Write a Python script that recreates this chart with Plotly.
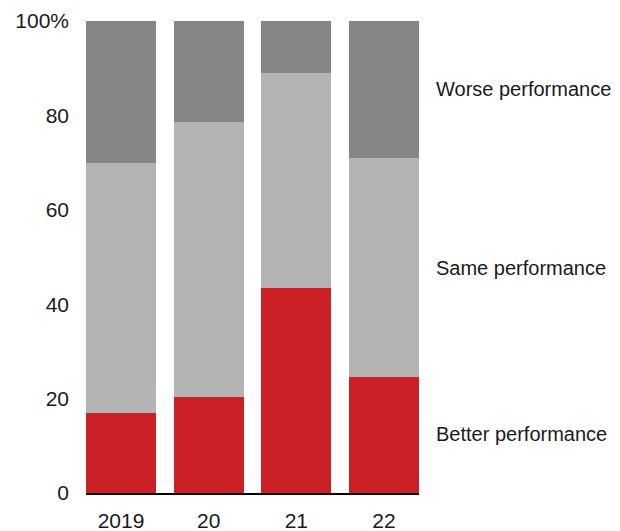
import plotly.graph_objects as go

years = ["2019", "20", "21", "22"]
better = [17, 20.3, 43.4, 24.6]
same = [53, 58.3, 45.6, 46.4]
worse = [30, 21.4, 11, 29]
series_names = ["Better performance", "Same performance", "Worse performance"]
y_tick_vals = [0, 20, 40, 60, 80, 100]
y_tick_text = ["0", "20", "40", "60", "80", "100%"]

colors = ["#CC2027", "#B3B3B3", "#858585"]
label_y = [12.5, 47.7, 85.6]

FONT = "Liberation Sans, Arial, sans-serif"

fig = go.Figure()
for name, vals, col in zip(series_names, [better, same, worse], colors):
    fig.add_trace(go.Bar(x=years, y=vals, name=name, marker=dict(color=col, line=dict(width=0)),
                         hoverinfo="skip"))

for name, yy in zip(series_names, label_y):
    fig.add_annotation(text=name, xref="paper", yref="y", x=1.045, y=yy,
                       xanchor="left", yanchor="middle", showarrow=False,
                       font=dict(family=FONT, size=20, color="#1a1a1a"))

# page body has an 8px default margin, so the figure is 8px smaller and margins shifted
fig.update_layout(
    barmode="stack",
    bargap=0.2,
    width=612, height=523,
    margin=dict(l=78, r=201, t=13, b=38, autoexpand=False),
    plot_bgcolor="white", paper_bgcolor="white",
    showlegend=False,
    font=dict(family=FONT, size=21, color="#1a1a1a"),
    xaxis=dict(type="category", range=[-0.4, 3.4], showline=True, linecolor="black",
               linewidth=2, ticks="", showgrid=False, ticklabelstandoff=8,
               automargin=False, fixedrange=True),
    yaxis=dict(range=[0, 100], tickvals=y_tick_vals, ticktext=y_tick_text, showgrid=False,
               zeroline=False, showline=False, ticks="", ticklabelstandoff=16,
               automargin=False, fixedrange=True),
)

fig.write_html("out.html")
